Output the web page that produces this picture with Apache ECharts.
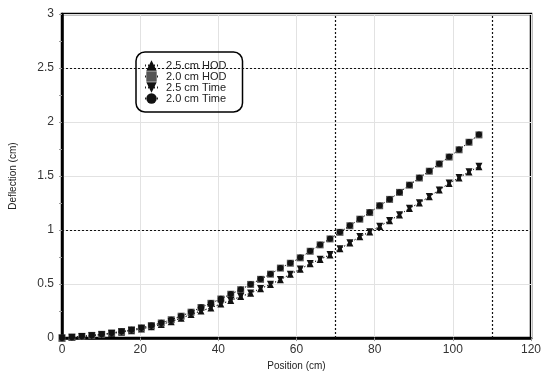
<!DOCTYPE html>
<html>
<head>
<meta charset="utf-8">
<script src="https://cdn.jsdelivr.net/npm/echarts@6/dist/echarts.min.js"></script>
<style>
  html, body { margin: 0; padding: 0; background: #fff; }
  #chart { width: 551px; height: 376px; }
</style>
</head>
<body>
<div id="chart"></div>
<script>
// positions in cm (every 2.54 cm)
var positions = [0, 2.54, 5.08, 7.62, 10.16, 12.7, 15.24, 17.78, 20.32, 22.86,
    25.4, 27.94, 30.48, 33.02, 35.56, 38.1, 40.64, 43.18, 45.72, 48.26,
    50.8, 53.34, 55.88, 58.42, 60.96, 63.5, 66.04, 68.58, 71.12, 73.66,
    76.2, 78.74, 81.28, 83.82, 86.36, 88.9, 91.44, 93.98, 96.52, 99.06,
    101.6, 104.14, 106.68];

// deflection (cm)
var hod25 = [0, 0.007, 0.014, 0.022, 0.031, 0.043, 0.055, 0.069, 0.085, 0.104,
    0.126, 0.152, 0.183, 0.218, 0.250, 0.279, 0.315, 0.347, 0.384, 0.415,
    0.457, 0.497, 0.540, 0.590, 0.638, 0.688, 0.728, 0.770, 0.826, 0.881,
    0.938, 0.982, 1.034, 1.087, 1.140, 1.200, 1.250, 1.309, 1.370, 1.432,
    1.483, 1.538, 1.586];
var hod20 = [0, 0.008, 0.016, 0.025, 0.035, 0.048, 0.061, 0.077, 0.095, 0.116,
    0.140, 0.170, 0.203, 0.240, 0.283, 0.322, 0.362, 0.406, 0.448, 0.497,
    0.544, 0.592, 0.648, 0.693, 0.743, 0.804, 0.863, 0.918, 0.979, 1.040,
    1.101, 1.162, 1.225, 1.284, 1.349, 1.416, 1.482, 1.545, 1.612, 1.676,
    1.743, 1.813, 1.881];
var time25 = [0, 0.007, 0.014, 0.022, 0.032, 0.043, 0.056, 0.070, 0.086, 0.105,
    0.127, 0.153, 0.185, 0.220, 0.253, 0.281, 0.318, 0.349, 0.386, 0.418,
    0.460, 0.499, 0.543, 0.592, 0.640, 0.690, 0.731, 0.773, 0.828, 0.883,
    0.940, 0.985, 1.036, 1.089, 1.142, 1.203, 1.252, 1.311, 1.372, 1.435,
    1.486, 1.540, 1.590];
var time20 = [0, 0.008, 0.016, 0.025, 0.036, 0.048, 0.062, 0.078, 0.096, 0.117,
    0.141, 0.171, 0.205, 0.242, 0.285, 0.324, 0.364, 0.408, 0.450, 0.499,
    0.546, 0.594, 0.650, 0.695, 0.745, 0.806, 0.865, 0.920, 0.981, 1.042,
    1.103, 1.164, 1.227, 1.286, 1.351, 1.418, 1.484, 1.547, 1.614, 1.678,
    1.745, 1.815, 1.885];

var seriesNames = ['2.5 cm HOD', '2.0 cm HOD', '2.5 cm Time', '2.0 cm Time'];
// dotted reference lines
var refX = [70, 110];
var refY = [1, 2.5];

function pairs(ys) {
    var out = [];
    for (var i = 0; i < positions.length; i++) {
        out.push([positions[i], ys[i]]);
    }
    return out;
}

var myChart = echarts.init(document.getElementById('chart'), null, {renderer: 'canvas'});

var font = 'Liberation Sans, Arial, sans-serif';
var dotted = {color: '#222', width: 1, type: [1, 2]};

var refLines = [];
refX.forEach(function (v) { refLines.push({xAxis: v}); });
refY.forEach(function (v) { refLines.push({yAxis: v}); });

var option = {
    animation: false,
    backgroundColor: '#fff',
    grid: {
        left: 62, right: 20, top: 14, bottom: 35,
        show: true,
        borderColor: '#000',
        borderWidth: 2.5,
        backgroundColor: 'transparent'
    },
    legend: {
        orient: 'vertical',
        left: 136, top: 52,
        padding: [8, 16, 8, 8],
        borderColor: '#000',
        borderWidth: 1.5,
        borderRadius: 9,
        itemWidth: 13,
        itemHeight: 13,
        itemGap: 0,
        textStyle: {fontFamily: font, fontSize: 11, color: '#222', padding: [0, 0, 0, 3]},
        data: seriesNames
    },
    xAxis: {
        type: 'value',
        min: 0, max: 120, interval: 20,
        name: 'Position (cm)',
        nameLocation: 'middle',
        nameGap: 22,
        nameTextStyle: {fontFamily: font, fontSize: 10, color: '#222'},
        axisLine: {show: true, lineStyle: {color: '#000', width: 2.5}},
        axisTick: {show: true, length: 3, lineStyle: {color: '#999'}},
        axisLabel: {fontFamily: font, fontSize: 12, color: '#333', margin: 6},
        splitLine: {show: true, lineStyle: {color: '#e2e2e2', width: 1}}
    },
    yAxis: {
        type: 'value',
        min: 0, max: 3, interval: 0.5,
        name: 'Deflection (cm)',
        nameLocation: 'middle',
        nameGap: 44,
        nameTextStyle: {fontFamily: font, fontSize: 10, color: '#222'},
        axisLine: {show: true, lineStyle: {color: '#000', width: 2.5}},
        axisTick: {show: true, length: 3, lineStyle: {color: '#999'}},
        minorTick: {show: true, splitNumber: 2, length: 3, lineStyle: {color: '#999'}},
        axisLabel: {fontFamily: font, fontSize: 12, color: '#333', margin: 8},
        splitLine: {show: true, lineStyle: {color: '#e2e2e2', width: 1}}
    },
    series: [
        {
            name: seriesNames[0], type: 'line', data: pairs(hod25),
            symbol: 'triangle', symbolSize: 7,
            itemStyle: {color: '#111'}, lineStyle: dotted, z: 3,
            markLine: {
                silent: true, symbol: 'none', label: {show: false},
                lineStyle: {color: '#111', width: 1.2, type: [2, 2]},
                data: refLines
            }
        },
        {
            name: seriesNames[1], type: 'line', data: pairs(hod20),
            symbol: 'rect', symbolSize: 7,
            itemStyle: {color: '#555'}, lineStyle: dotted, z: 3
        },
        {
            name: seriesNames[2], type: 'line', data: pairs(time25),
            symbol: 'triangle', symbolRotate: 180, symbolSize: 7,
            itemStyle: {color: '#111'}, lineStyle: dotted, z: 4
        },
        {
            name: seriesNames[3], type: 'line', data: pairs(time20),
            symbol: 'circle', symbolSize: 6,
            itemStyle: {color: '#111'}, lineStyle: dotted, z: 4
        }
    ]
};

myChart.setOption(option);
</script>
</body>
</html>
